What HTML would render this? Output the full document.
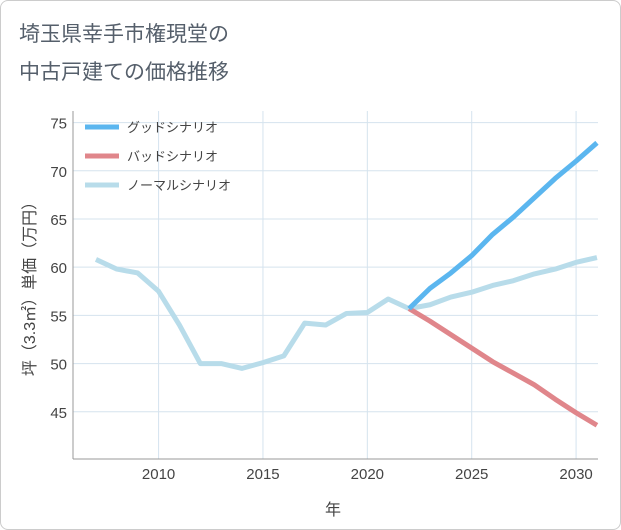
<!DOCTYPE html>
<html><head><meta charset="utf-8"><style>
body{margin:0;background:#fff;}
#wrap{position:relative;width:619px;height:528px;border:1px solid #ccc;border-radius:8px;overflow:hidden;background:#fff;}
text{font-family:"Liberation Sans","Noto Sans CJK JP",sans-serif;}
</style></head><body>
<div id="wrap">
<svg id="chart" width="621" height="530">
<text x="18" y="40" font-size="21" fill="#555f6b">埼玉県幸手市権現堂の</text>
<text x="18" y="78" font-size="21" fill="#555f6b">中古戸建ての価格推移</text>
<g id="grid"></g><g id="axes"></g><g id="series"></g><g id="legend"></g>
<text x="332" y="514" font-size="16" fill="#444" text-anchor="middle">年</text>
<text transform="translate(34,284) rotate(-90)" font-size="16" fill="#444" text-anchor="middle">坪（3.3㎡）単価（万円）</text>
</svg></div>
<script>
const years=[2007,2008,2009,2010,2011,2012,2013,2014,2015,2016,2017,2018,2019,2020,2021,2022,2023,2024,2025,2026,2027,2028,2029,2030,2031];
const normalValues=[60.8,59.8,59.4,57.5,54,50,50,49.5,50.1,50.8,54.2,54,55.2,55.3,56.7,55.7,56.1,56.9,57.4,58.1,58.6,59.3,59.8,60.5,61];
const futureYears=[2022,2023,2024,2025,2026,2027,2028,2029,2030,2031];
const goodValues=[55.7,57.8,59.4,61.2,63.4,65.2,67.2,69.2,71,72.9];
const badValues=[55.7,54.4,53,51.6,50.2,49,47.8,46.3,44.9,43.6];
const xTicks=[2010,2015,2020,2025,2030];
const yTicks=[45,50,55,60,65,70,75];
const L=72,R=597,T=110,B=458,x0=2005.9,x1=2031.05,y0=40.1,y1=76.2;
const X=v=>L+(v-x0)/(x1-x0)*(R-L), Y=v=>B-(v-y0)/(y1-y0)*(B-T);
const NS="http://www.w3.org/2000/svg";
function mk(t,a,p){const e=document.createElementNS(NS,t);for(const k in a)e.setAttribute(k,a[k]);p.appendChild(e);return e;}
const g=document.getElementById('grid'),ax=document.getElementById('axes'),s=document.getElementById('series'),lg=document.getElementById('legend');
xTicks.forEach(t=>{const l=mk('line',{x1:X(t),x2:X(t),y1:T,y2:B,stroke:'#d5e3ee'},g);


const tx=mk('text',{x:X(t),y:B+20,'font-size':15,fill:'#444','text-anchor':'middle'},ax);tx.textContent=t;

});
yTicks.forEach(t=>{const l=mk('line',{x1:L,x2:R,y1:Y(t),y2:Y(t),stroke:'#d5e3ee'},g);


const tx=mk('text',{x:L-6,y:Y(t)+6,'font-size':15,fill:'#444','text-anchor':'end'},ax);tx.textContent=t;

});
const ab=mk('line',{x1:L,x2:R,y1:B,y2:B,stroke:'#999'},ax);


const al=mk('line',{x1:L,x2:L,y1:T,y2:B,stroke:'#999'},ax);


function line(xs,vs,c,n){const p=mk('polyline',{points:xs.map((x,i)=>X(x)+','+Y(vs[i])).join(' '),fill:'none',stroke:c,'stroke-width':5,'stroke-linejoin':'round'},s);

}
line(years,normalValues,'#b8dcea','normal-scenario-line');
line(futureYears,badValues,'#e0868b','bad-scenario-line');
line(futureYears,goodValues,'#5bb6ef','good-scenario-line');
[['グッドシナリオ','#5bb6ef'],['バッドシナリオ','#e0868b'],['ノーマルシナリオ','#b8dcea']].forEach((e,i)=>{
const y=126+i*29;const l=mk('line',{x1:84,x2:118,y1:y,y2:y,stroke:e[1],'stroke-width':5},lg);


const t=mk('text',{x:126,y:y+5,'font-size':13,fill:'#444'},lg);t.textContent=e[0];

});
</script></body></html>
